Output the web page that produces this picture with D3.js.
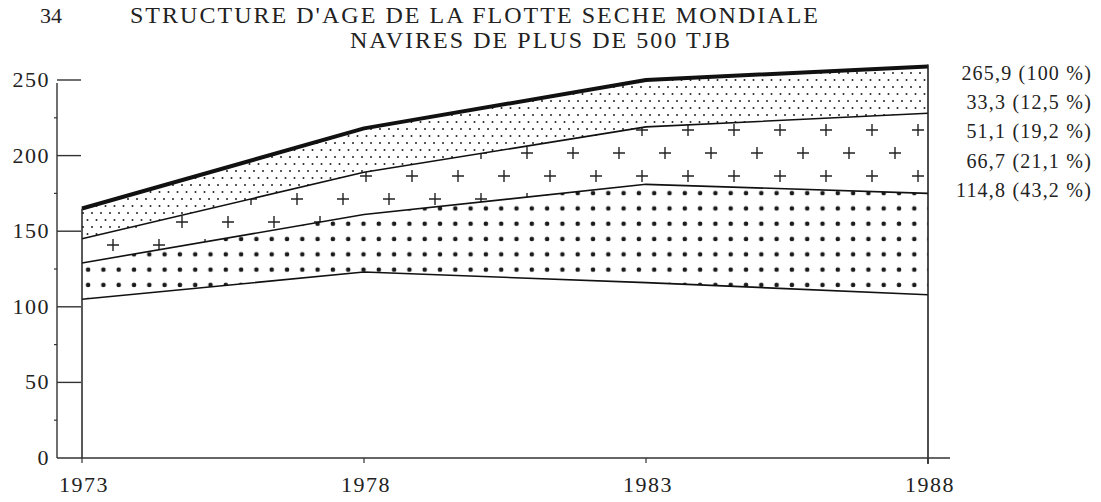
<!DOCTYPE html>
<html><head><meta charset="utf-8">
<script src="https://cdn.jsdelivr.net/npm/d3@7"></script>
<style>
html,body{margin:0;padding:0;background:#fff;}
text{font-family:"Liberation Serif","DejaVu Serif",serif;fill:#222;}
</style></head>
<body><svg id="c" width="1101" height="502"></svg>
<script>
// ---- data ----
const years = [1973, 1978, 1983, 1988];
const series1 = [105, 123, 116, 108]; // 114,8 (43,2 %)
const series2 = [24, 38, 65, 67];     // 66,7 (21,1 %)
const series3 = [16, 28, 38, 53];     // 51,1 (19,2 %)
const series4 = [20, 29, 31, 31];     // 33,3 (12,5 %)
const yTicks = [0, 50, 100, 150, 200, 250];
const yMinorTicks = [25, 75, 125, 175, 225];
const xTicks = [1973, 1978, 1983, 1988];
const rightLabels = ["265,9 (100 %)", "33,3 (12,5 %)", "51,1 (19,2 %)", "66,7 (21,1 %)", "114,8 (43,2 %)"];
const titleNum = "34";
const title1 = "STRUCTURE D'AGE DE LA FLOTTE SECHE MONDIALE";
const title2 = "NAVIRES DE PLUS DE 500 TJB";

(function () {
const svg = d3.select("#c");
const x = d3.scaleLinear().domain([1973, 1988]).range([82, 928]);
const y = d3.scaleLinear().domain([0, 250]).range([458, 80]);
const axisX = 57;

const table = years.map((yr, i) => ({year: yr, s1: series1[i], s2: series2[i], s3: series3[i], s4: series4[i]}));
const keys = ["s1", "s2", "s3", "s4"];
const stacked = d3.stack().keys(keys)(table);

// patterns
const defs = svg.append("defs");
const p4 = defs.append("pattern").attr("id", "pFine").attr("patternUnits", "userSpaceOnUse")
  .attr("width", 9).attr("height", 14);
p4.append("circle").attr("cx", 2).attr("cy", 3).attr("r", 1.0).attr("fill", "#222");
p4.append("circle").attr("cx", 6.5).attr("cy", 10).attr("r", 1.0).attr("fill", "#222");
const p3 = defs.append("pattern").attr("id", "pPlus").attr("patternUnits", "userSpaceOnUse")
  .attr("width", 46).attr("height", 46).attr("x", 10).attr("y", 4);
[[11, 11], [34, 34]].forEach(([cx, cy]) => {
  p3.append("path").attr("d", `M${cx-6},${cy}H${cx+6}M${cx},${cy-6}V${cy+6}`)
    .attr("stroke", "#222").attr("stroke-width", 1.4).attr("fill", "none");
});
const p2 = defs.append("pattern").attr("id", "pDots").attr("patternUnits", "userSpaceOnUse")
  .attr("width", 15.3).attr("height", 15.3).attr("x", 4).attr("y", 2);
p2.append("circle").attr("cx", 7.6).attr("cy", 7.6).attr("r", 2.3).attr("fill", "#1a1a1a");

const fills = {s1: "#fff", s2: "url(#pDots)", s3: "url(#pPlus)", s4: "url(#pFine)"};

const area = d3.area().x(d => x(d.data.year)).y0(d => y(d[0])).y1(d => y(d[1]));
svg.append("g").selectAll("path").data(stacked).join("path")
  .attr("d", area).attr("fill", d => fills[d.key]).attr("stroke", "none");

const line = d3.line().x(d => x(d.data.year)).y(d => y(d[1]));
svg.append("g").selectAll("path").data(stacked).join("path")
  .attr("d", line).attr("fill", "none").attr("stroke", "#111")
  .attr("stroke-width", d => d.key === "s4" ? 4 : 1.6)
  .attr("stroke-linejoin", "round");

const topLayer = stacked[stacked.length - 1];
svg.append("line").attr("x1", x(1973)).attr("x2", x(1973)).attr("y1", y(0)).attr("y2", y(topLayer[0][1]))
  .attr("stroke", "#222").attr("stroke-width", 1.5);
svg.append("line").attr("x1", x(1988)).attr("x2", x(1988)).attr("y1", y(0) + 6).attr("y2", y(topLayer[3][1]) - 2)
  .attr("stroke", "#222").attr("stroke-width", 1.6);

// y axis
svg.append("line").attr("x1", axisX).attr("x2", axisX).attr("y1", y(0)).attr("y2", y(250) + 3)
  .attr("stroke", "#333").attr("stroke-width", 1.4);
svg.append("g").selectAll("line").data(yTicks.filter(v => v > 0)).join("line")
  .attr("x1", axisX).attr("x2", axisX + 24).attr("y1", d => y(d)).attr("y2", d => y(d))
  .attr("stroke", "#333").attr("stroke-width", 1.4);
svg.append("g").selectAll("line").data(yMinorTicks).join("line")
  .attr("x1", axisX - 3).attr("x2", axisX).attr("y1", d => y(d)).attr("y2", d => y(d))
  .attr("stroke", "#333").attr("stroke-width", 1.2);
svg.append("g").selectAll("text").data(yTicks).join("text")
  .attr("x", 50).attr("y", d => y(d) + 7).attr("text-anchor", "end")
  .style("font-size", "22px").style("letter-spacing", "1.5px").text(d => d);

// x axis
svg.append("line").attr("x1", axisX).attr("x2", 950).attr("y1", y(0)).attr("y2", y(0))
  .attr("stroke", "#333").attr("stroke-width", 1.4);
svg.append("g").selectAll("line").data(xTicks).join("line")
  .attr("x1", d => x(d)).attr("x2", d => x(d)).attr("y1", y(0)).attr("y2", y(0) + 5)
  .attr("stroke", "#333").attr("stroke-width", 1.2);
svg.append("g").selectAll("text").data(xTicks).join("text")
  .attr("x", d => x(d) + 2).attr("y", 492).attr("text-anchor", "middle")
  .style("font-size", "22px").style("letter-spacing", "1.5px").text(d => d);

// right labels
svg.append("g").selectAll("text").data(rightLabels).join("text")
  .attr("x", 1092).attr("y", (d, i) => y(250) + i * 29.2)
  .attr("text-anchor", "end")
  .style("font-size", "20px").style("letter-spacing", "1.2px").text(d => d);

// title
svg.append("text").attr("x", 40).attr("y", 23).style("font-size", "22px").text(titleNum);
svg.append("text").attr("x", 130).attr("y", 23).style("font-size", "24px")
  .attr("textLength", 688).attr("lengthAdjust", "spacing").text(title1);
svg.append("text").attr("x", 350).attr("y", 48).style("font-size", "24px")
  .attr("textLength", 380).attr("lengthAdjust", "spacing").text(title2);
})();
</script></body></html>
